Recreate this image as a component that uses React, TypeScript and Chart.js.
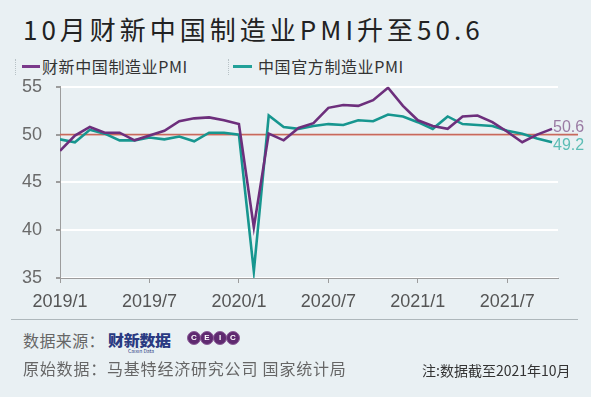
import React, { useEffect, useRef } from "react";
import { Chart, registerables } from "chart.js";

Chart.register(...registerables);

// ---- data ----
const months = [
  "2019/1", "2019/2", "2019/3", "2019/4", "2019/5", "2019/6", "2019/7", "2019/8", "2019/9", "2019/10", "2019/11", "2019/12",
  "2020/1", "2020/2", "2020/3", "2020/4", "2020/5", "2020/6", "2020/7", "2020/8", "2020/9", "2020/10", "2020/11", "2020/12",
  "2021/1", "2021/2", "2021/3", "2021/4", "2021/5", "2021/6", "2021/7", "2021/8", "2021/9", "2021/10",
];
const caixinPMI = [
  48.3, 49.9, 50.8, 50.2, 50.2, 49.4, 49.9, 50.4, 51.4, 51.7, 51.8, 51.5,
  51.1, 40.3, 50.1, 49.4, 50.7, 51.2, 52.8, 53.1, 53.0, 53.6, 54.9, 53.0,
  51.5, 50.9, 50.6, 51.9, 52.0, 51.3, 50.3, 49.2, 50.0, 50.6,
];
const officialPMI = [
  49.5, 49.2, 50.5, 50.1, 49.4, 49.4, 49.7, 49.5, 49.8, 49.3, 50.2, 50.2,
  50.0, 35.7, 52.0, 50.8, 50.6, 50.9, 51.1, 51.0, 51.5, 51.4, 52.1, 51.9,
  51.3, 50.6, 51.9, 51.1, 51.0, 50.9, 50.4, 50.1, 49.6, 49.2,
];
const xTickLabels = ["2019/1", "2019/7", "2020/1", "2020/7", "2021/1", "2021/7"];
const yMin = 35;
const yMax = 55;
const yStep = 5;
const referenceLevel = 50;
const seriesNames = ["财新中国制造业PMI", "中国官方制造业PMI"];

const PURPLE = "#6d2f7c";
const TEAL = "#17968f";
const BG = "#e9f0f3";
const CJK = '"Noto Sans CJK SC", "Noto Sans", sans-serif';
const NUM = '"Liberation Sans", Arial, sans-serif';

const refLinePlugin = {
  id: "refLine",
  beforeDatasetsDraw(chart: any) {
    const { ctx, chartArea, scales } = chart;
    const y = scales.y.getPixelForValue(referenceLevel);
    ctx.save();
    ctx.strokeStyle = "#c7695c";
    ctx.lineWidth = 1.6;
    ctx.beginPath();
    ctx.moveTo(chartArea.left, y);
    ctx.lineTo(chartArea.right + 20, y);
    ctx.stroke();
    ctx.restore();
  },
};

const endLabelPlugin = {
  id: "endLabels",
  afterDatasetsDraw(chart: any) {
    const { ctx } = chart;
    const cfg = [
      { color: "#9a7aa3", dy: -1 },
      { color: "#5cbdb5", dy: 3.5 },
    ];
    chart.data.datasets.forEach((ds: any, i: number) => {
      const meta = chart.getDatasetMeta(i);
      const pts = meta.data;
      const last = pts[pts.length - 1];
      const v = ds.data[ds.data.length - 1].y;
      ctx.save();
      ctx.fillStyle = cfg[i].color;
      ctx.font = `16px ${NUM}`;
      ctx.textAlign = "left";
      ctx.textBaseline = "middle";
      ctx.fillText(v.toFixed(1), last.x + 1, last.y + cfg[i].dy);
      ctx.restore();
    });
  },
};

export default function App() {
  const canvasRef = useRef<HTMLCanvasElement | null>(null);

  useEffect(() => {
    if (!canvasRef.current) return;
    const chart = new Chart(canvasRef.current, {
      type: "line",
      data: {
        datasets: [
          {
            label: seriesNames[0],
            data: caixinPMI.map((v, i) => ({ x: i, y: v })),
            borderColor: PURPLE,
            borderWidth: 2.6,
            pointRadius: 0,
            tension: 0,
          },
          {
            label: seriesNames[1],
            data: officialPMI.map((v, i) => ({ x: i, y: v })),
            borderColor: TEAL,
            borderWidth: 2.6,
            pointRadius: 0,
            tension: 0,
          },
        ],
      },
      options: {
        animation: false,
        responsive: false,
        devicePixelRatio: 1,
        layout: { padding: { top: 0, right: 33, left: 0, bottom: 0 } },
        plugins: {
          legend: { display: false },
          tooltip: { enabled: false },
        },
        scales: {
          x: {
            type: "linear",
            min: 0,
            max: months.length - 0.6,
            afterFit: (s: any) => {
              s.height = 46;
            },
            border: { color: "#9c9c9c", width: 1 },
            grid: {
              drawOnChartArea: false,
              drawTicks: true,
              tickLength: 5,
              tickColor: "#9c9c9c",
            },
            ticks: {
              stepSize: 6,
              includeBounds: false,
              autoSkip: false,
              maxRotation: 0,
              padding: 8,
              color: "#555",
              font: { family: NUM, size: 18 },
              callback: (v: any) => {
                const lbl = months[Number(v)];
                return lbl && xTickLabels.includes(lbl) ? lbl : null;
              },
            },
          },
          y: {
            min: yMin,
            max: yMax,
            afterFit: (s: any) => {
              s.width = 60;
            },
            border: { color: "#9c9c9c", width: 1 },
            grid: {
              color: "#ffffff",
              lineWidth: 2,
              tickColor: "#9c9c9c",
              tickLength: 4,
            },
            ticks: {
              stepSize: yStep,
              padding: 14,
              color: "#6a6a6a",
              font: { family: NUM, size: 18 },
            },
          },
        },
      },
      plugins: [refLinePlugin, endLabelPlugin],
    } as any);
    return () => chart.destroy();
  }, []);

  const abs = (o: React.CSSProperties): React.CSSProperties => ({ position: "absolute", whiteSpace: "nowrap", ...o });

  return (
    <div style={{ position: "fixed", left: 0, top: 0, width: 591, height: 397, background: BG, overflow: "hidden", fontFamily: CJK }}>
      <div style={abs({ left: 23, top: 15, fontSize: 26, lineHeight: "28px", letterSpacing: 4, color: "#222" })}>
        10月财新中国制造业PMI升至50.6
      </div>

      {/* legend */}
      <div style={abs({ left: 15, top: 59, width: 180, height: 16, borderLeft: "1px dotted #b8c2c6" })} />
      <div style={abs({ left: 22, top: 65, width: 18, height: 3, background: "#7b3a8b" })} />
      <div style={abs({ left: 42, top: 58, fontSize: 16, lineHeight: "17px", letterSpacing: 0.6, color: "#333" })}>
        {seriesNames[0]}
      </div>
      <div style={abs({ left: 228, top: 59, width: 180, height: 16, borderLeft: "1px dotted #b8c2c6" })} />
      <div style={abs({ left: 233, top: 65, width: 19, height: 3, background: "#22a199" })} />
      <div style={abs({ left: 258, top: 58, fontSize: 16, lineHeight: "17px", letterSpacing: 0.6, color: "#333" })}>
        {seriesNames[1]}
      </div>

      <canvas ref={canvasRef} width={591} height={262} style={abs({ left: 0, top: 62, width: 591, height: 262 })} />

      {/* footer */}
      <div style={abs({ left: 11, top: 319, width: 567, height: 1, background: "#aeb7bb" })} />
      <div style={abs({ left: 23, top: 331, fontSize: 16, lineHeight: "18px", letterSpacing: 0.4, color: "#666" })}>数据来源：</div>
      <div style={abs({ left: 108, top: 330, fontSize: 16, lineHeight: "18px", fontWeight: 900, letterSpacing: -0.3, color: "#2a3a82", transform: "scaleY(0.95)" })}>
        财新数据
      </div>
      <div style={abs({ left: 128, top: 348, fontSize: 5, lineHeight: "5px", color: "#2a3a82" })}>Caixin Data</div>
      <div style={abs({ left: 187, top: 331, display: "flex" })}>
        {["C", "E", "I", "C"].map((c, i) => (
          <div
            key={i}
            style={{
              width: 14,
              height: 14,
              borderRadius: 7,
              marginLeft: i === 0 ? 0 : -1,
              background: "#5f2a70",
              border: "1px solid #8a5a96",
              color: "#fff",
              fontSize: 8,
              lineHeight: "12px",
              textAlign: "center",
              fontFamily: NUM,
              fontWeight: 700,
              boxSizing: "border-box",
            }}
          >
            {c}
          </div>
        ))}
      </div>
      <div style={abs({ left: 23, top: 359, fontSize: 16, lineHeight: "18px", letterSpacing: 0.8, color: "#666" })}>
        原始数据：马基特经济研究公司 国家统计局
      </div>
      <div style={abs({ left: 422, top: 362, fontSize: 14, lineHeight: "16px", color: "#333" })}>注:数据截至2021年10月</div>
    </div>
  );
}
